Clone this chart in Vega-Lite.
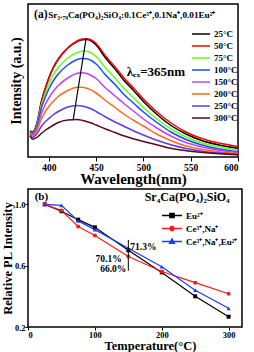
{
"$schema": "https://vega.github.io/schema/vega-lite/v6.json",
"padding": {"left": 0, "top": 3, "right": 0, "bottom": 0},
"config": {
  "font": "Liberation Serif",
  "view": {"stroke": "black", "strokeWidth": 1.5},
  "axis": {"labelFont": "Liberation Serif", "labelFontWeight": "bold", "labelColor": "black", "titleFont": "Liberation Serif", "titleFontWeight": "bold", "titleColor": "black", "domain": false, "grid": false, "tickColor": "black", "tickWidth": 1, "labelOverlap": false},
  "text": {"font": "Liberation Serif", "fontWeight": "bold", "color": "black"}
},
"columns": 1,
"align": "none",
"spacing": 0,
"resolve": {"scale": {"color": "independent"}},
"concat": [
{
  "width": 210, "height": 153,
  "layer": [
    {
      "data": {"values": [
        {"temp":"25°C","wl":380,"I":26},{"temp":"25°C","wl":383,"I":25},{"temp":"25°C","wl":388,"I":36},{"temp":"25°C","wl":392,"I":55},{"temp":"25°C","wl":396,"I":68},{"temp":"25°C","wl":400,"I":79},{"temp":"25°C","wl":405,"I":90},{"temp":"25°C","wl":410,"I":98},{"temp":"25°C","wl":420,"I":109},{"temp":"25°C","wl":430,"I":115.5},{"temp":"25°C","wl":435,"I":117.3},{"temp":"25°C","wl":440,"I":117.5},{"temp":"25°C","wl":445,"I":116},{"temp":"25°C","wl":450,"I":112},{"temp":"25°C","wl":460,"I":99},{"temp":"25°C","wl":470,"I":88},{"temp":"25°C","wl":480,"I":76},{"temp":"25°C","wl":490,"I":66},{"temp":"25°C","wl":500,"I":55.5},{"temp":"25°C","wl":515,"I":42},{"temp":"25°C","wl":530,"I":31},{"temp":"25°C","wl":545,"I":23},{"temp":"25°C","wl":560,"I":17},{"temp":"25°C","wl":580,"I":12},{"temp":"25°C","wl":600,"I":8.7},
        {"temp":"50°C","wl":380,"I":25.5},{"temp":"50°C","wl":383,"I":24},{"temp":"50°C","wl":388,"I":35},{"temp":"50°C","wl":392,"I":54},{"temp":"50°C","wl":396,"I":67},{"temp":"50°C","wl":400,"I":78.5},{"temp":"50°C","wl":405,"I":89.5},{"temp":"50°C","wl":410,"I":97.5},{"temp":"50°C","wl":420,"I":109},{"temp":"50°C","wl":430,"I":116},{"temp":"50°C","wl":435,"I":118},{"temp":"50°C","wl":440,"I":118.2},{"temp":"50°C","wl":445,"I":117},{"temp":"50°C","wl":450,"I":113.5},{"temp":"50°C","wl":460,"I":101},{"temp":"50°C","wl":470,"I":90},{"temp":"50°C","wl":480,"I":78.5},{"temp":"50°C","wl":490,"I":68.5},{"temp":"50°C","wl":500,"I":58},{"temp":"50°C","wl":515,"I":44.5},{"temp":"50°C","wl":530,"I":33.5},{"temp":"50°C","wl":545,"I":25},{"temp":"50°C","wl":560,"I":19},{"temp":"50°C","wl":580,"I":14},{"temp":"50°C","wl":600,"I":10.5},
        {"temp":"75°C","wl":380,"I":25},{"temp":"75°C","wl":383,"I":23.5},{"temp":"75°C","wl":388,"I":34},{"temp":"75°C","wl":392,"I":51},{"temp":"75°C","wl":396,"I":63},{"temp":"75°C","wl":400,"I":73},{"temp":"75°C","wl":405,"I":82.5},{"temp":"75°C","wl":410,"I":89.5},{"temp":"75°C","wl":420,"I":99},{"temp":"75°C","wl":430,"I":104.5},{"temp":"75°C","wl":435,"I":105.8},{"temp":"75°C","wl":440,"I":105.7},{"temp":"75°C","wl":445,"I":104},{"temp":"75°C","wl":450,"I":100.5},{"temp":"75°C","wl":460,"I":89},{"temp":"75°C","wl":470,"I":79},{"temp":"75°C","wl":480,"I":68},{"temp":"75°C","wl":490,"I":59},{"temp":"75°C","wl":500,"I":49.5},{"temp":"75°C","wl":515,"I":37.5},{"temp":"75°C","wl":530,"I":27.5},{"temp":"75°C","wl":545,"I":20},{"temp":"75°C","wl":560,"I":14.5},{"temp":"75°C","wl":580,"I":10},{"temp":"75°C","wl":600,"I":7},
        {"temp":"100°C","wl":380,"I":24.5},{"temp":"100°C","wl":383,"I":23},{"temp":"100°C","wl":388,"I":33},{"temp":"100°C","wl":392,"I":48.5},{"temp":"100°C","wl":396,"I":59},{"temp":"100°C","wl":400,"I":68},{"temp":"100°C","wl":405,"I":76.5},{"temp":"100°C","wl":410,"I":83},{"temp":"100°C","wl":420,"I":92},{"temp":"100°C","wl":430,"I":97.5},{"temp":"100°C","wl":435,"I":98.6},{"temp":"100°C","wl":440,"I":98.2},{"temp":"100°C","wl":445,"I":96.5},{"temp":"100°C","wl":450,"I":93},{"temp":"100°C","wl":460,"I":82},{"temp":"100°C","wl":470,"I":72.5},{"temp":"100°C","wl":480,"I":62},{"temp":"100°C","wl":490,"I":53.5},{"temp":"100°C","wl":500,"I":45},{"temp":"100°C","wl":515,"I":34},{"temp":"100°C","wl":530,"I":24.5},{"temp":"100°C","wl":545,"I":17.5},{"temp":"100°C","wl":560,"I":12.5},{"temp":"100°C","wl":580,"I":8},{"temp":"100°C","wl":600,"I":5.3},
        {"temp":"150°C","wl":380,"I":23.5},{"temp":"150°C","wl":383,"I":22},{"temp":"150°C","wl":388,"I":30},{"temp":"150°C","wl":392,"I":43},{"temp":"150°C","wl":396,"I":52},{"temp":"150°C","wl":400,"I":59},{"temp":"150°C","wl":405,"I":66},{"temp":"150°C","wl":410,"I":71.5},{"temp":"150°C","wl":420,"I":79},{"temp":"150°C","wl":430,"I":83.7},{"temp":"150°C","wl":435,"I":84.3},{"temp":"150°C","wl":440,"I":83.5},{"temp":"150°C","wl":445,"I":81.5},{"temp":"150°C","wl":450,"I":78.5},{"temp":"150°C","wl":460,"I":69},{"temp":"150°C","wl":470,"I":61},{"temp":"150°C","wl":480,"I":53},{"temp":"150°C","wl":490,"I":45.5},{"temp":"150°C","wl":500,"I":38},{"temp":"150°C","wl":515,"I":28.5},{"temp":"150°C","wl":530,"I":20.5},{"temp":"150°C","wl":545,"I":14.5},{"temp":"150°C","wl":560,"I":10.5},{"temp":"150°C","wl":580,"I":6.8},{"temp":"150°C","wl":600,"I":4.3},
        {"temp":"200°C","wl":380,"I":23},{"temp":"200°C","wl":383,"I":21},{"temp":"200°C","wl":388,"I":27.5},{"temp":"200°C","wl":392,"I":38},{"temp":"200°C","wl":396,"I":45},{"temp":"200°C","wl":400,"I":50.5},{"temp":"200°C","wl":405,"I":56},{"temp":"200°C","wl":410,"I":60.5},{"temp":"200°C","wl":420,"I":66.5},{"temp":"200°C","wl":430,"I":69.8},{"temp":"200°C","wl":435,"I":69.8},{"temp":"200°C","wl":440,"I":68.8},{"temp":"200°C","wl":445,"I":66.8},{"temp":"200°C","wl":450,"I":64},{"temp":"200°C","wl":460,"I":56.5},{"temp":"200°C","wl":470,"I":49.5},{"temp":"200°C","wl":480,"I":42.5},{"temp":"200°C","wl":490,"I":36.5},{"temp":"200°C","wl":500,"I":31},{"temp":"200°C","wl":515,"I":22.5},{"temp":"200°C","wl":530,"I":16},{"temp":"200°C","wl":545,"I":11},{"temp":"200°C","wl":560,"I":8},{"temp":"200°C","wl":580,"I":5.2},{"temp":"200°C","wl":600,"I":3.3},
        {"temp":"250°C","wl":380,"I":22},{"temp":"250°C","wl":383,"I":19.5},{"temp":"250°C","wl":388,"I":24},{"temp":"250°C","wl":392,"I":30.5},{"temp":"250°C","wl":396,"I":35},{"temp":"250°C","wl":400,"I":38.5},{"temp":"250°C","wl":405,"I":42.5},{"temp":"250°C","wl":410,"I":45.5},{"temp":"250°C","wl":420,"I":50},{"temp":"250°C","wl":430,"I":51.6},{"temp":"250°C","wl":435,"I":51},{"temp":"250°C","wl":440,"I":49.8},{"temp":"250°C","wl":445,"I":48},{"temp":"250°C","wl":450,"I":45.5},{"temp":"250°C","wl":460,"I":40},{"temp":"250°C","wl":470,"I":35},{"temp":"250°C","wl":480,"I":30.5},{"temp":"250°C","wl":490,"I":26},{"temp":"250°C","wl":500,"I":22},{"temp":"250°C","wl":515,"I":16.5},{"temp":"250°C","wl":530,"I":12},{"temp":"250°C","wl":545,"I":8.5},{"temp":"250°C","wl":560,"I":6},{"temp":"250°C","wl":580,"I":4},{"temp":"250°C","wl":600,"I":2.7},
        {"temp":"300°C","wl":380,"I":21},{"temp":"300°C","wl":383,"I":17.7},{"temp":"300°C","wl":388,"I":20},{"temp":"300°C","wl":392,"I":23.5},{"temp":"300°C","wl":396,"I":26.5},{"temp":"300°C","wl":400,"I":29},{"temp":"300°C","wl":405,"I":32},{"temp":"300°C","wl":410,"I":34.5},{"temp":"300°C","wl":420,"I":37},{"temp":"300°C","wl":430,"I":37.5},{"temp":"300°C","wl":435,"I":36.8},{"temp":"300°C","wl":440,"I":35.5},{"temp":"300°C","wl":445,"I":34},{"temp":"300°C","wl":450,"I":32},{"temp":"300°C","wl":460,"I":28},{"temp":"300°C","wl":470,"I":24.5},{"temp":"300°C","wl":480,"I":21},{"temp":"300°C","wl":490,"I":18},{"temp":"300°C","wl":500,"I":15.5},{"temp":"300°C","wl":515,"I":12},{"temp":"300°C","wl":530,"I":8.5},{"temp":"300°C","wl":545,"I":6.3},{"temp":"300°C","wl":560,"I":4.7},{"temp":"300°C","wl":580,"I":3.2},{"temp":"300°C","wl":600,"I":2.2}
      ]},
      "mark": {"type": "line", "interpolate": "monotone", "strokeWidth": 1.5},
      "encoding": {
        "x": {"field": "wl", "type": "quantitative", "scale": {"domain": [378, 600], "nice": false, "zero": false},
              "axis": {"title": "Wavelength(nm)", "values": [400,425,450,475,500,525,550,575,600], "labelExpr": "datum.value % 50 === 0 ? datum.label : ''", "tickSize": {"condition": {"test": "datum.value % 50 === 0", "value": 4}, "value": 2}, "labelFontSize": 9.5, "titleFontSize": 15, "labelPadding": 1, "titlePadding": 0}},
        "y": {"field": "I", "type": "quantitative", "scale": {"domain": [0, 153], "nice": false},
              "axis": {"title": "Intensity (a.u.)", "labels": false, "ticks": false, "titleFontSize": 14, "titlePadding": 5}},
        "color": {"field": "temp", "type": "nominal",
                  "scale": {"domain": ["25°C","50°C","75°C","100°C","150°C","200°C","250°C","300°C"], "range": ["#000000","#ff0000","#66ff1a","#1a4dff","#c040ff","#ff6a1a","#5a3cf0","#5a0a1e"]},
                  "legend": {"orient": "none", "legendX": 163, "legendY": 24, "title": null, "symbolType": "stroke", "symbolSize": 324, "symbolStrokeWidth": 1.5, "clipHeight": 12, "rowPadding": 0, "padding": 0, "labelFontSize": 9, "labelFont": "Liberation Serif", "labelFontWeight": "bold", "labelColor": "black", "labelOffset": 3}}
      }
    },
    {
      "data": {"values": [{"wl": 439.5, "I": 119, "wl2": 425.8, "I2": 37.5}]},
      "mark": {"type": "rule", "color": "black", "strokeWidth": 1.2},
      "encoding": {"x": {"field": "wl", "type": "quantitative"}, "y": {"field": "I", "type": "quantitative"}, "x2": {"field": "wl2"}, "y2": {"field": "I2"}}
    },
    {
      "data": {"values": [{"wl": 384.4, "I": 142, "label": "(a)"}]},
      "mark": {"type": "text", "align": "left", "baseline": "middle", "fontSize": 11.5},
      "encoding": {"x": {"field": "wl", "type": "quantitative"}, "y": {"field": "I", "type": "quantitative"}, "text": {"field": "label"}}
    },
    {
      "data": {"values": [{"wl": 399.3, "I": 142, "label": "Sr₃.₇₉Ca(PO₄)₂SiO₄:0.1Ce³⁺,0.1Na⁺,0.01Eu²⁺"}]},
      "mark": {"type": "text", "align": "left", "baseline": "middle", "fontSize": 9.2},
      "encoding": {"x": {"field": "wl", "type": "quantitative"}, "y": {"field": "I", "type": "quantitative"}, "text": {"field": "label"}}
    },
    {
      "data": {"values": [{"wl": 482.3, "I": 85, "label": "λₑₓ=365nm"}]},
      "mark": {"type": "text", "align": "left", "baseline": "middle", "fontSize": 13},
      "encoding": {"x": {"field": "wl", "type": "quantitative"}, "y": {"field": "I", "type": "quantitative"}, "text": {"field": "label"}}
    }
  ]
},
{
  "width": 214, "height": 138,
  "layer": [
    {
      "data": {"values": [
        {"sample":"Eu²⁺","T":25,"R":1.0},{"sample":"Eu²⁺","T":50,"R":0.955},{"sample":"Eu²⁺","T":75,"R":0.9},{"sample":"Eu²⁺","T":100,"R":0.85},{"sample":"Eu²⁺","T":150,"R":0.701},{"sample":"Eu²⁺","T":200,"R":0.556},{"sample":"Eu²⁺","T":250,"R":0.4},{"sample":"Eu²⁺","T":300,"R":0.267},
        {"sample":"Ce³⁺,Na⁺","T":25,"R":1.0},{"sample":"Ce³⁺,Na⁺","T":50,"R":0.96},{"sample":"Ce³⁺,Na⁺","T":75,"R":0.855},{"sample":"Ce³⁺,Na⁺","T":100,"R":0.797},{"sample":"Ce³⁺,Na⁺","T":150,"R":0.66},{"sample":"Ce³⁺,Na⁺","T":200,"R":0.562},{"sample":"Ce³⁺,Na⁺","T":250,"R":0.489},{"sample":"Ce³⁺,Na⁺","T":300,"R":0.417},
        {"sample":"Ce³⁺,Na⁺,Eu²⁺","T":25,"R":1.0},{"sample":"Ce³⁺,Na⁺,Eu²⁺","T":50,"R":0.993},{"sample":"Ce³⁺,Na⁺,Eu²⁺","T":75,"R":0.892},{"sample":"Ce³⁺,Na⁺,Eu²⁺","T":100,"R":0.835},{"sample":"Ce³⁺,Na⁺,Eu²⁺","T":150,"R":0.713},{"sample":"Ce³⁺,Na⁺,Eu²⁺","T":200,"R":0.593},{"sample":"Ce³⁺,Na⁺,Eu²⁺","T":250,"R":0.44},{"sample":"Ce³⁺,Na⁺,Eu²⁺","T":300,"R":0.322}
      ]},
      "layer": [
        {
          "mark": {"type": "line", "strokeWidth": 1.2},
          "encoding": {
            "x": {"field": "T", "type": "quantitative", "scale": {"domain": [0, 320], "nice": false, "zero": false},
                  "axis": {"title": "Temperature(°C)", "values": [0,25,50,75,100,125,150,175,200,225,250,275,300], "labelExpr": "datum.value % 50 === 0 ? datum.label : ''", "tickSize": {"condition": {"test": "datum.value % 50 === 0", "value": 3}, "value": 2}, "labelFontSize": 8.5, "titleFontSize": 12.5, "titleX": 122, "labelPadding": 0, "titlePadding": 1}},
            "y": {"field": "R", "type": "quantitative", "scale": {"domain": [0.2, 1.1], "nice": false, "zero": false},
                  "axis": {"title": "Relative PL Intensity", "values": [0.2,0.4,0.6,0.8,1.0], "format": ".1f", "tickSize": 3, "labelFontSize": 8.5, "titleFontSize": 12.5, "labelPadding": 0, "titlePadding": 0}},
            "color": {"field": "sample", "type": "nominal",
                      "scale": {"domain": ["Eu²⁺","Ce³⁺,Na⁺","Ce³⁺,Na⁺,Eu²⁺"], "range": ["#000000","#ff1a1a","#1a3cff"]},
                      "legend": {"orient": "none", "legendX": 133, "legendY": 20, "title": null,
                                 "symbolType": {"expr": "datum.value === 'Eu²⁺' ? 'M-1,0H1M-0.22,-0.22H0.22V0.22H-0.22Z' : datum.value === 'Ce³⁺,Na⁺' ? 'M-1,0H1M0.22,0L0.156,0.156L0,0.22L-0.156,0.156L-0.22,0L-0.156,-0.156L0,-0.22L0.156,-0.156Z' : 'M-1,0H1M0,-0.27L0.25,0.18L-0.25,0.18Z'"},
                                 "symbolFillColor": {"expr": "datum.value === 'Eu²⁺' ? '#000000' : datum.value === 'Ce³⁺,Na⁺' ? '#ff1a1a' : '#1a3cff'"},
                                 "symbolSize": 400, "symbolStrokeWidth": 1.3, "clipHeight": 13, "rowPadding": 0, "padding": 0,
                                 "labelFontSize": 9, "labelFont": "Liberation Serif", "labelFontWeight": "bold", "labelColor": "black", "labelOffset": 3}}
          }
        },
        {
          "transform": [{"filter": "datum.sample === 'Eu²⁺'"}],
          "mark": {"type": "point", "filled": true, "opacity": 1, "size": 16, "shape": "square", "color": "#000000"},
          "encoding": {"x": {"field": "T", "type": "quantitative"}, "y": {"field": "R", "type": "quantitative"}}
        },
        {
          "transform": [{"filter": "datum.sample === 'Ce³⁺,Na⁺'"}],
          "mark": {"type": "point", "filled": true, "opacity": 1, "size": 16, "shape": "circle", "color": "#ff1a1a"},
          "encoding": {"x": {"field": "T", "type": "quantitative"}, "y": {"field": "R", "type": "quantitative"}}
        },
        {
          "transform": [{"filter": "datum.sample === 'Ce³⁺,Na⁺,Eu²⁺'"}],
          "mark": {"type": "point", "filled": true, "opacity": 1, "size": 18, "shape": "triangle-up", "color": "#1a3cff"},
          "encoding": {"x": {"field": "T", "type": "quantitative"}, "y": {"field": "R", "type": "quantitative"}}
        }
      ]
    },
    {
      "data": {"values": [{"T": 150, "R1": 0.567, "R2": 0.768}]},
      "mark": {"type": "rule", "color": "black", "strokeWidth": 1},
      "encoding": {"x": {"field": "T", "type": "quantitative"}, "y": {"field": "R1", "type": "quantitative"}, "y2": {"field": "R2"}}
    },
    {
      "data": {"values": [{"T": 10, "R": 1.05, "label": "(b)"}]},
      "mark": {"type": "text", "align": "left", "baseline": "middle", "fontSize": 11},
      "encoding": {"x": {"field": "T", "type": "quantitative"}, "y": {"field": "R", "type": "quantitative"}, "text": {"field": "label"}}
    },
    {
      "data": {"values": [{"T": 238, "R": 1.045, "label": "Sr₄Ca(PO₄)₂SiO₄"}]},
      "mark": {"type": "text", "align": "center", "baseline": "middle", "fontSize": 12},
      "encoding": {"x": {"field": "T", "type": "quantitative"}, "y": {"field": "R", "type": "quantitative"}, "text": {"field": "label"}}
    },
    {
      "data": {"values": [{"T": 153, "R": 0.725, "label": "71.3%"}]},
      "mark": {"type": "text", "align": "left", "baseline": "middle", "fontSize": 9.5},
      "encoding": {"x": {"field": "T", "type": "quantitative"}, "y": {"field": "R", "type": "quantitative"}, "text": {"field": "label"}}
    },
    {
      "data": {"values": [{"T": 140, "R": 0.642, "label": "70.1%"}, {"T": 147, "R": 0.578, "label": "66.0%"}]},
      "mark": {"type": "text", "align": "right", "baseline": "middle", "fontSize": 9.5},
      "encoding": {"x": {"field": "T", "type": "quantitative"}, "y": {"field": "R", "type": "quantitative"}, "text": {"field": "label"}}
    }
  ]
}
]
}
